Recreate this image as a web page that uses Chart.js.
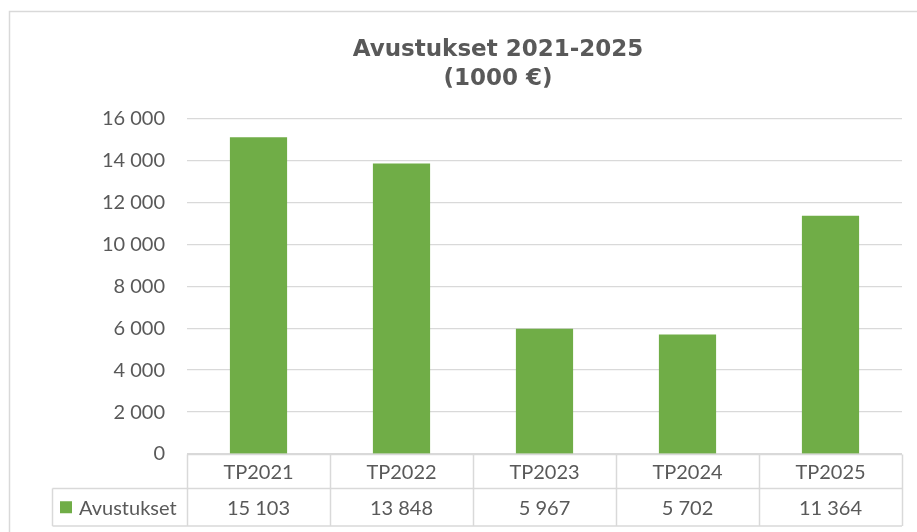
<!DOCTYPE html>
<html><head><meta charset="utf-8">
<script src="https://cdn.jsdelivr.net/npm/chart.js@4.4.1/dist/chart.umd.min.js"></script>
<style>html,body{margin:0;padding:0;background:#fff}canvas{display:block}</style>
</head><body>
<canvas id="c" width="917" height="532"></canvas>
<script>
const categories = ['TP2021', 'TP2022', 'TP2023', 'TP2024', 'TP2025'];
const seriesName = 'Avustukset';
const values = [15103, 13848, 5967, 5702, 11364];
const titleLines = ['Avustukset 2021-2025', '(1000 €)'];
const yMin = 0, yMax = 16000, yStep = 2000;

const TXT = '#595959', LINE = '#d9d9d9', GREEN = '#70AD47';
const FONT = 'Lato';
function fmt(v){ return String(Math.round(v)).replace(/\B(?=(\d{3})+(?!\d))/g, '\u00a0'); }

const frame = {
  id: 'frame',
  beforeDraw(chart){
    const c = chart.ctx;
    c.save();
    c.fillStyle = '#fff'; c.fillRect(0,0,chart.width,chart.height);
    c.strokeStyle = LINE; c.lineWidth = 1.5;
    c.strokeRect(9.5, 11.5, 960, 560);
    c.restore();
  }
};

const table = {
  id: 'table',
  afterDraw(chart){
    const c = chart.ctx, x = chart.scales.x, a = chart.chartArea;
    const n = categories.length;
    const bounds = [a.left];
    for (let i = 1; i < n; i++) bounds.push((x.getPixelForValue(i-1) + x.getPixelForValue(i)) / 2);
    bounds.push(a.right);
    const y0 = a.bottom + 0.5, y1 = y0 + 34, y2 = y1 + 37.5;
    const legL = 52.5;
    c.save();
    c.strokeStyle = LINE; c.lineWidth = 1.5;
    c.beginPath();
    c.moveTo(a.left, y0); c.lineTo(a.right, y0);
    c.moveTo(legL, y1); c.lineTo(a.right, y1);
    c.moveTo(legL, y2); c.lineTo(a.right, y2);
    c.moveTo(legL, y1); c.lineTo(legL, y2);
    bounds.forEach(b => { const bx = Math.round(b) + 0.5; c.moveTo(bx, y0); c.lineTo(bx, y2); });
    c.stroke();
    c.fillStyle = TXT; c.font = '20px ' + FONT; c.textAlign = 'center'; c.textBaseline = 'middle';
    categories.forEach((cat, i) => {
      const cx = x.getPixelForValue(i);
      c.fillText(cat, cx, (y0 + y1) / 2 + 1);
      c.fillText(fmt(values[i]), cx, (y1 + y2) / 2 + 1);
    });
    c.fillStyle = GREEN;
    c.fillRect(60, (y1 + y2) / 2 - 6, 12, 12);
    c.fillStyle = TXT; c.textAlign = 'left';
    c.fillText(seriesName, 79, (y1 + y2) / 2 + 1);
    c.restore();
  }
};

new Chart(document.getElementById('c'), {
  type: 'bar',
  data: {
    labels: categories,
    datasets: [{ label: seriesName, data: values, backgroundColor: GREEN,
      categoryPercentage: 1.0, barPercentage: 0.4 }]
  },
  options: {
    responsive: false, animation: false,
    layout: { padding: { left: 94, right: 15, top: 0, bottom: 78 } },
    plugins: {
      legend: { display: false },
      tooltip: { enabled: false },
      title: { display: true, text: titleLines, color: TXT,
        font: { family: 'DejaVu Sans', weight: 'bold', size: 23, lineHeight: 1.28 },
        padding: { top: 35, bottom: 24.5 } }
    },
    scales: {
      x: { display: false },
      y: {
        min: yMin, max: yMax,
        afterFit(s){ s.width = 93; },
        border: { display: false },
        grid: { color: LINE, lineWidth: 1.2, drawTicks: false },
        ticks: { stepSize: yStep, padding: 22, color: TXT, font: { family: FONT, size: 20 },
          callback: v => fmt(v) }
      }
    }
  },
  plugins: [frame, table]
});
</script>
</body></html>
